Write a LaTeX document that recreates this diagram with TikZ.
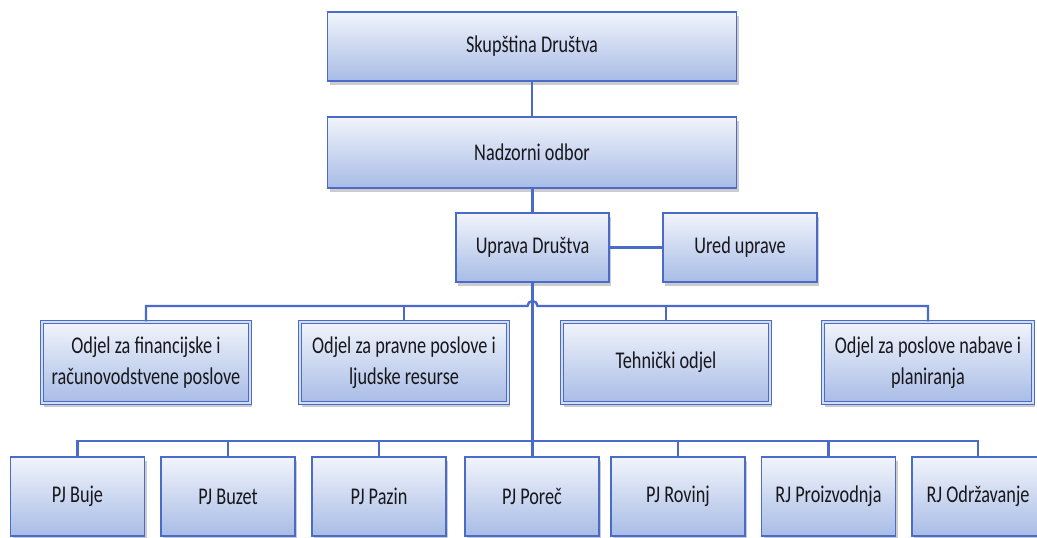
\documentclass[tikz,border=0pt]{standalone}
\usepackage{fontspec}
\setmainfont{Carlito}[FakeStretch=0.76]
\usetikzlibrary{shadows}
\definecolor{bord}{HTML}{4A6CC8}
\definecolor{ftop}{HTML}{F1F4FB}
\definecolor{fbot}{HTML}{A8BCE6}
\definecolor{dbl}{HTML}{D3DDF4}
\definecolor{txt}{HTML}{17171C}
\tikzset{
  orgbox/.style={draw=bord, line width=1.9pt, top color=ftop, bottom color=fbot,
    drop shadow={opacity=0.4, shadow xshift=2pt, shadow yshift=-4pt},
    inner sep=0pt, align=center, text=txt,
    font=\fontsize{24}{31}\selectfont},
  dblbox/.style={orgbox, double=dbl, double distance=1.8pt, line width=1.5pt},
  conn/.style={draw=bord, line width=2.4pt}
}
\begin{document}
\begin{tikzpicture}[x=1pt,y=-1pt]
\path[use as bounding box, clip] (0,0) rectangle (1037,538);
\fill[white] (0,0) rectangle (1037,538);
% top chain
\node[orgbox, minimum width=409pt, minimum height=69pt] (skup) at (532,46.5) {Skupština Društva};
\node[orgbox, minimum width=409pt, minimum height=71pt] (nadz) at (532,152.5) {Nadzorni odbor};
\node[orgbox, minimum width=153pt, minimum height=69pt] (uprava) at (532.5,247.5) {Uprava Društva};
\node[orgbox, minimum width=154pt, minimum height=69pt] (ured) at (740,247.5) {Ured uprave};
% second row
\node[dblbox, minimum width=208pt, minimum height=81pt] (fin) at (146,362.5) {Odjel za financijske i\\računovodstvene poslove};
\node[dblbox, minimum width=208pt, minimum height=81pt] (prav) at (404,362.5) {Odjel za pravne poslove i\\ljudske resurse};
\node[dblbox, minimum width=208pt, minimum height=81pt] (teh) at (666,362.5) {Tehnički odjel};
\node[dblbox, minimum width=210pt, minimum height=81pt] (nab) at (928,362.5) {Odjel za poslove nabave i\\planiranja};
% bottom row
\node[orgbox, minimum width=134pt, minimum height=79pt] (buje) at (77.5,496.5) {PJ Buje};
\node[orgbox, minimum width=134pt, minimum height=79pt] (buzet) at (228,496.5) {PJ Buzet};
\node[orgbox, minimum width=134pt, minimum height=79pt] (pazin) at (379,496.5) {PJ Pazin};
\node[orgbox, minimum width=134pt, minimum height=79pt] (porec) at (532,496.5) {PJ Poreč};
\node[orgbox, minimum width=134pt, minimum height=79pt] (rovinj) at (678,496.5) {PJ Rovinj};
\node[orgbox, minimum width=134pt, minimum height=79pt] (proiz) at (828.5,496.5) {RJ Proizvodnja};
\node[orgbox, minimum width=132pt, minimum height=79pt] (odrz) at (978,496.5) {RJ Održavanje};
% bus coordinates
\coordinate (b1) at (532.5,306);
\coordinate (b2) at (532.5,441);
% connectors
\draw[conn] (skup) -- (nadz);
\draw[conn] (nadz.south -| uprava.north) -- (uprava.north);
\draw[conn] (uprava) -- (ured);
\draw[conn] (uprava.south) -- (uprava.south |- porec.north);
\draw[conn] (fin.north) |- ([xshift=-5pt]b1) arc[start angle=180, end angle=0, radius=5pt] -| (nab.north);
\draw[conn] (prav.north) -- (prav.north |- b1);
\draw[conn] (teh.north) -- (teh.north |- b1);
\draw[conn] (buje.north) |- (b2) -| (odrz.north);
\draw[conn] (buzet.north) -- (buzet.north |- b2);
\draw[conn] (pazin.north) -- (pazin.north |- b2);
\draw[conn] (rovinj.north) -- (rovinj.north |- b2);
\draw[conn] (proiz.north) -- (proiz.north |- b2);
\end{tikzpicture}
\end{document}
